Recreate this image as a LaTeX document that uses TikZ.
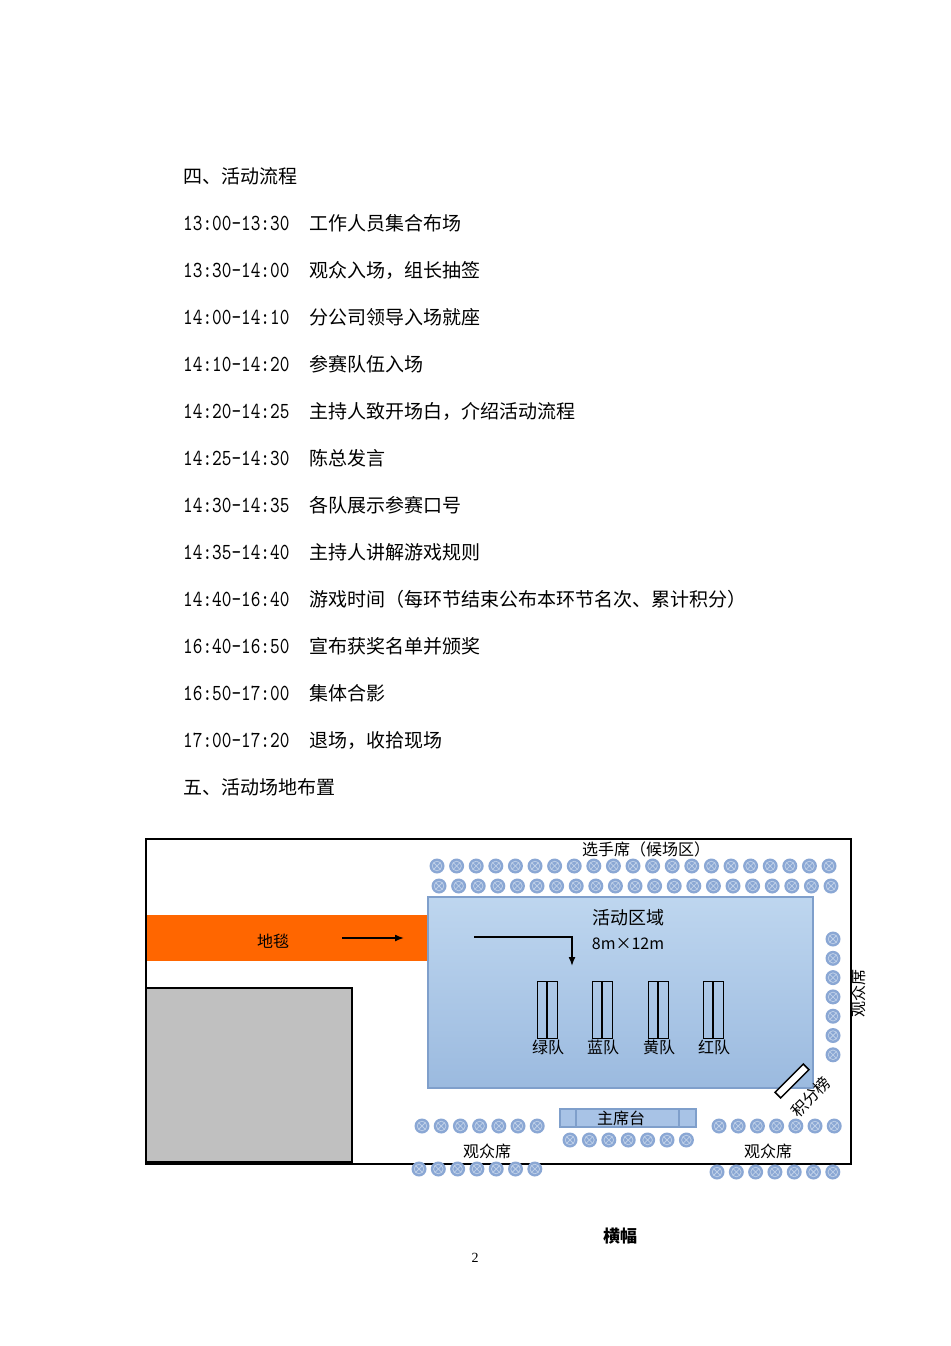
\documentclass[tikz,border=0pt]{standalone}
\usepackage{fontspec}
\usepackage{xcolor}
\usepackage{tikz}
\usetikzlibrary{arrows.meta}
\newfontfamily\cjk{Noto Sans CJK SC}
\newfontfamily\timefont[FakeStretch=0.8]{lmmono10-regular.otf}
\newfontfamily\pagefont{Liberation Serif}
\definecolor{carpet}{HTML}{FF6600}
\definecolor{boxgray}{HTML}{C0C0C0}
\definecolor{areatop}{HTML}{BED6EF}
\definecolor{areabot}{HTML}{9BBADF}
\definecolor{areaedge}{HTML}{7F9FCB}
\definecolor{seatfill}{HTML}{8AA7D4}
\definecolor{seatline}{HTML}{BFD0E8}
\definecolor{deskfill}{HTML}{A8C3E6}
\tikzset{
  seat/.pic={
    \fill[seatfill] (0,0) circle (7.5pt);
    \draw[seatline, line width=0.75] (0,0) circle (4.8pt) (-3.2,-3.2) -- (3.2,3.2) (-3.2,3.2) -- (3.2,-3.2);
  },
  bodytext/.style={font=\cjk\fontsize{19}{19}\selectfont, anchor=base west, inner sep=0},
  maplabel/.style={font=\cjk\fontsize{16}{16}\selectfont, inner sep=0},
  pointer/.style={-{Latex[length=9,width=7]}, line width=1.5}
}

\begin{document}
\begin{tikzpicture}[x=1pt,y=-1pt]
\useasboundingbox (0,0) rectangle (950,1346);
\fill[white] (0,0) rectangle (950,1346);

\node[bodytext] (head4) at (183,183) {四、活动流程};
\foreach \t/\d [count=\i from 0] in {13:00-13:30/工作人员集合布场, 13:30-14:00/观众入场，组长抽签,
    14:00-14:10/分公司领导入场就座, 14:10-14:20/参赛队伍入场, 14:20-14:25/主持人致开场白，介绍活动流程,
    14:25-14:30/陈总发言, 14:30-14:35/各队展示参赛口号, 14:35-14:40/主持人讲解游戏规则,
    14:40-16:40/游戏时间（每环节结束公布本环节名次、累计积分）, 16:40-16:50/宣布获奖名单并颁奖,
    16:50-17:00/集体合影, 17:00-17:20/退场，收拾现场}{
  \node[bodytext, font=\timefont\fontsize{23}{23}\selectfont] (t\i) at (183,{230+47*\i}) {\t};
  \node[bodytext] (d\i) at (309,{230+47*\i}) {\d};
}
\node[bodytext] (head5) at (183,794) {五、活动场地布置};

\draw[line width=1.5] (146,839) rectangle (851,1164);
\fill[carpet] (147,915) rectangle (428,961);
\draw[fill=boxgray, line width=1.5] (146,988) rectangle (352,1162);
\shade[top color=areatop, bottom color=areabot] (428,897) rectangle (813,1088);
\draw[areaedge, line width=1.5] (428,897) rectangle (813,1088);

\node[maplabel] (carpetname) at (273,941) {地毯};
\coordinate (c1) at (342,938);
\coordinate (c2) at (404,938);
\draw[pointer] (c1) -- (c2);

\node[maplabel, font=\cjk\fontsize{18}{18}\selectfont] (area) at (628,918) {活动区域};
\node[maplabel] (size) at (628,944) {8m×12m};
\coordinate (l1) at (474,937);
\coordinate (l2) at (572,937);
\coordinate (l3) at (572,966);
\draw[pointer] (l1) -- (l2) -- (l3);

\foreach \x/\team in {537/绿队, 592/蓝队, 648/黄队, 703/红队}{
  \draw[line width=1] (\x,981) rectangle ({\x+20},1038);
  \draw[line width=2.5] ({\x+10},981) -- ({\x+10},1038);
  \node[maplabel] (team\x) at ({\x+11},1047) {\team};
}

\node[maplabel] (players) at (646,849) {选手席（候场区）};
\foreach \i in {0,...,20}{
  \pic at ({437+19.6*\i},866) {seat};
  \pic at ({439+19.6*\i},886) {seat};
}
\foreach \i in {0,...,6}{
  \pic at (833,{939+19.3*\i}) {seat};
  \pic at ({570+19.4*\i},1140) {seat};
  \pic at ({422+19.2*\i},1126) {seat};
  \pic at ({419+19.3*\i},1169) {seat};
  \pic at ({719+19.2*\i},1126) {seat};
  \pic at ({717+19.3*\i},1172) {seat};
}
\node[maplabel, rotate=90] (audright) at (858,993) {观众席};
\node[maplabel] (audleft) at (487,1151) {观众席};
\node[maplabel] (audbottom) at (768,1151) {观众席};

\draw[fill=deskfill, draw=areaedge, line width=1.5] (560,1109) rectangle (696,1127);
\draw[areaedge, line width=1.2] (576,1109) -- (576,1127) (679,1109) -- (679,1127);
\node[maplabel] (desk) at (621,1118) {主席台};

\draw[fill=white, line width=1.5, rotate around={45:(792,1081)}] (772,1077) rectangle (812,1085);
\node[maplabel, rotate=45] (boardname) at (811,1097) {积分榜};

\node[maplabel, font=\cjk\bfseries\fontsize{17}{17}\selectfont] (banner) at (620,1236) {横幅};
\node[font=\pagefont\fontsize{14}{14}\selectfont, inner sep=0] (pagenum) at (475,1258) {2};
\end{tikzpicture}
\end{document}
